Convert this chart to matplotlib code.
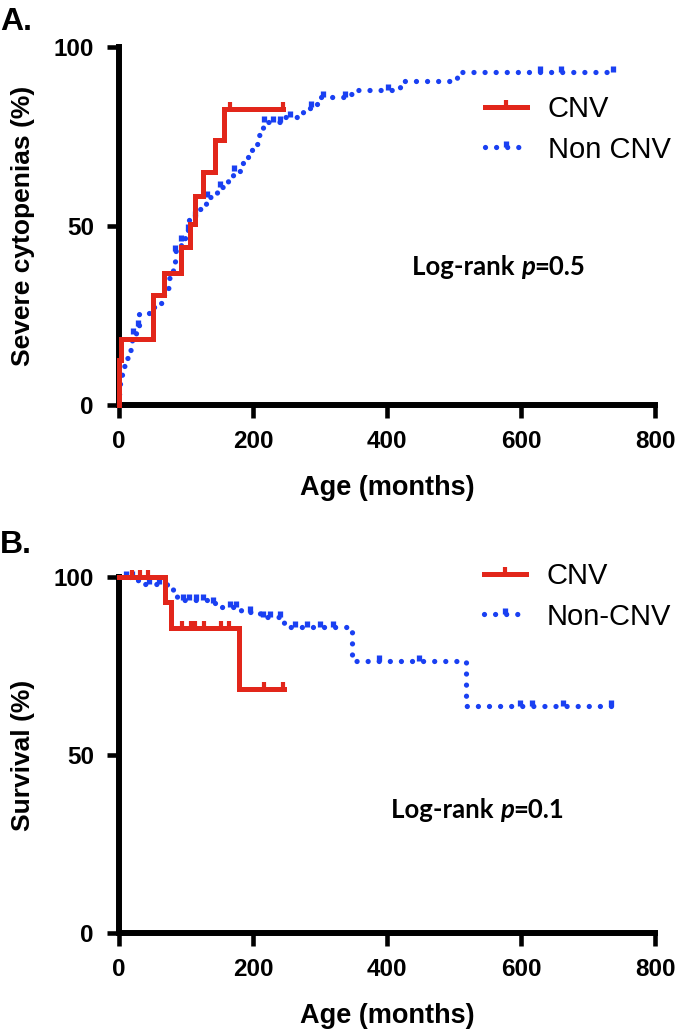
import numpy as np
import matplotlib
matplotlib.use("Agg")
import matplotlib.pyplot as plt
from matplotlib.lines import Line2D

# ---------------- data ----------------
# Panel A: cumulative incidence of severe cytopenias (%)
a_cnv_t = [0, 0.5, 3, 51, 67, 93, 106, 113, 126, 143, 156, 245]
a_cnv_v = [0, 12.5, 18.3, 30.7, 37.0, 44.0, 50.6, 58.3, 65.0, 74.0, 82.7, 82.7]
a_cnv_cens = [166, 245]

a_non_t = [0, 0.5, 2, 5, 9, 14, 19, 25, 30, 45, 58, 67, 75, 80, 84, 92, 99, 104,
           114, 130, 147, 155, 163, 170, 184, 191, 198, 208, 215, 245, 275, 285,
           296, 340, 350, 420, 505, 738]
a_non_v = [0, 3, 7, 10.8, 13, 15.4, 19.7, 22.2, 25.3, 27.4, 28.4, 32.8, 35.6, 38.9,
           43, 45.9, 49, 52.4, 54.8, 58, 60.9, 61.8, 63.2, 65.5, 67.5, 69.3, 73,
           75.4, 79.1, 80.5, 81.8, 83.3, 86.1, 87, 88, 90.6, 93, 93]
a_non_cens = [21, 29, 84, 92, 103, 113, 131, 150, 172, 216, 230, 240, 255, 287,
              305, 337, 402, 628, 660, 738]

# Panel B: overall survival (%)
b_cnv_t = [0, 69, 78, 179, 246]
b_cnv_v = [100, 93.0, 85.8, 68.6, 68.6]
b_cnv_cens = [19, 32, 44, 94, 107, 114, 127, 152, 164, 217, 245]

b_non_t = [0, 28, 71, 81, 86, 88, 135, 152, 182, 211, 247, 348, 518, 738]
b_non_v = [100, 98.1, 97.3, 95.9, 94.0, 93.5, 92.6, 91.7, 90.3, 88.9, 86.0, 76.4, 63.9, 63.9]
b_non_cens = [10, 20, 45, 60, 95, 105, 115, 125, 140, 165, 175, 195, 215, 225, 240,
              262, 280, 300, 320, 388, 448, 598, 616, 663, 735]

x_ticks = [0, 200, 400, 600, 800]
y_ticks = [0, 50, 100]

# ---------------- style ----------------
RED = "#e2261a"
BLUE = "#1a40f2"
BOLD = dict(family=["Liberation Sans", "DejaVu Sans"], weight="bold")
TICKMARK = [(0, 0), (0, 1)]
DOTTED = (0, (0.001, 2.1))

W, H = 675, 1034
fig = plt.figure(figsize=(W / 100, H / 100), dpi=100)


def level_at(t, v, ct):
    t = np.asarray(t, float)
    v = np.asarray(v, float)
    idx = np.searchsorted(t, np.asarray(ct, float), side="right") - 1
    return v[np.clip(idx, 0, len(v) - 1)]


def style_axes(ax, ylabel):
    ax.set_xlim(0, 800)
    ax.set_ylim(0, 100)
    for s in ("top", "right"):
        ax.spines[s].set_visible(False)
    for s in ("left", "bottom"):
        ax.spines[s].set_linewidth(4.3)
        ax.spines[s].set_capstyle("projecting")
    ax.set_xticks(x_ticks)
    ax.set_yticks(y_ticks)
    ax.tick_params(width=3.3, length=9, direction="out", pad=9)
    for lab in ax.get_xticklabels() + ax.get_yticklabels():
        lab.set_fontfamily(BOLD["family"])
        lab.set_fontweight("bold")
        lab.set_fontsize(17.5)
    ax.set_xlabel("Age (months)", fontsize=19.5, labelpad=16, **BOLD)
    ax.set_ylabel(ylabel, fontsize=19, **BOLD)
    ax.yaxis.set_label_coords(-0.157, 0.5)


def draw_curves(ax, ct, cv, cc, nt, nv, nc):
    ax.step(nt, nv, where="post", color=BLUE, lw=3.8, linestyle=DOTTED,
            dash_capstyle="round", clip_on=False, zorder=3)
    ax.plot(nc, level_at(nt, nv, nc), linestyle="none", marker=TICKMARK,
            markersize=9, mew=3.8, color=BLUE, clip_on=False, zorder=3)
    ax.step(ct, cv, where="post", color=RED, lw=3.6, clip_on=False, zorder=4,
            solid_joinstyle="miter")
    ax.plot(cc, level_at(ct, cv, cc), linestyle="none", marker=TICKMARK,
            markersize=10, mew=3.0, color=RED, clip_on=False, zorder=4)


def logrank(ax, x, y, val):
    fam = ["Lato", "DejaVu Sans"]
    kw = dict(fontsize=18.5, family=fam, weight="bold")
    t1 = ax.text(x, y, "Log-rank ", va="baseline", ha="left", **kw)
    t2 = ax.annotate("p", xy=(1, 0), xycoords=t1, va="bottom", ha="left",
                     style="italic", **kw)
    ax.annotate("=" + val, xy=(1, 0), xycoords=t2, va="bottom", ha="left", **kw)


def legend(ax, labels, anchor):
    handles = [
        Line2D([], [], color=RED, lw=3.6, marker=TICKMARK, markersize=10, mew=3.0),
        Line2D([], [], color=BLUE, lw=3.8, linestyle=DOTTED, dash_capstyle="round",
               marker=TICKMARK, markersize=9, mew=3.8),
    ]
    ax.legend(handles, labels, loc="upper left", bbox_to_anchor=anchor,
              frameon=False, numpoints=1, handlelength=1.45, handletextpad=0.7,
              labelspacing=0.42, borderpad=0, borderaxespad=0,
              prop=dict(family=["Liberation Sans", "DejaVu Sans"], size=21))


# ---------------- panel A ----------------
ax1 = fig.add_axes([119 / W, 1 - 405 / H, 536 / W, 358 / H])
style_axes(ax1, "Severe cytopenias (%)")
draw_curves(ax1, a_cnv_t, a_cnv_v, a_cnv_cens, a_non_t, a_non_v, a_non_cens)
legend(ax1, ["CNV", "Non CNV"], (0.683, 0.865))
logrank(ax1, 437, 36.3, "0.5")

# ---------------- panel B ----------------
ax2 = fig.add_axes([119 / W, 1 - 933 / H, 536 / W, 356 / H])
style_axes(ax2, "Survival (%)")
draw_curves(ax2, b_cnv_t, b_cnv_v, b_cnv_cens, b_non_t, b_non_v, b_non_cens)
legend(ax2, ["CNV", "Non-CNV"], (0.681, 1.041))
logrank(ax2, 406, 32.2, "0.1")

fig.text(0 / W, 1 - 30 / H, "A.", fontsize=23, va="baseline", ha="left", **BOLD)
fig.text(0 / W, 1 - 553 / H, "B.", fontsize=23, va="baseline", ha="left", **BOLD)

fig.savefig("out.png", dpi=100)
